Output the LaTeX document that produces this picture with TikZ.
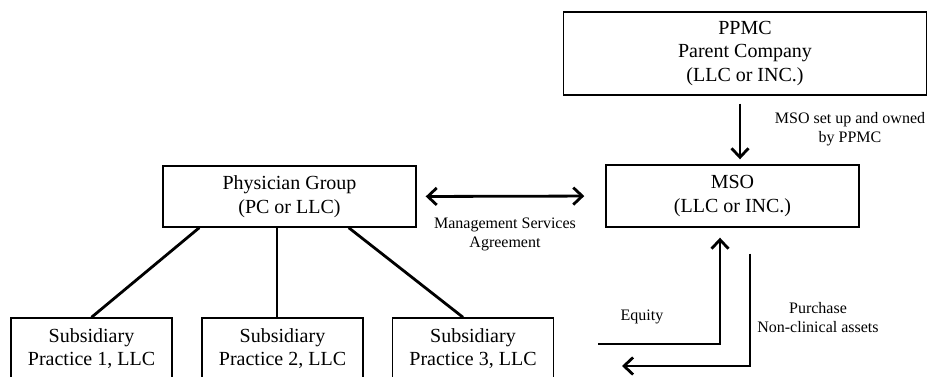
\documentclass[tikz,border=0pt]{standalone}
\usepackage{fontspec}
\setmainfont{Liberation Serif}
\usetikzlibrary{arrows.meta}

\tikzset{
  box/.style={draw, line width=1.4pt, align=center, inner sep=0pt,
    font=\fontsize{20}{23.5}\selectfont},
  lbl/.style={align=center, inner sep=0pt, font=\fontsize{16}{19}\selectfont},
  link/.style={line width=2.8pt},
  arr/.style={line width=2.8pt, -{Straight Barb[length=9pt,width=17pt]}},
  dblarr/.style={line width=2.8pt,
    {Straight Barb[length=9pt,width=17pt]}-{Straight Barb[length=9pt,width=17pt]}},
}

\begin{document}
\begin{tikzpicture}[x=1pt,y=-1pt]
\clip (0,0) rectangle (930,377);

% draw the boxes
\node[box, minimum width=363pt, minimum height=83pt] (ppmc) at (745,53.5) {PPMC\\Parent Company\\(LLC or INC.)};
\node[box, minimum width=253pt, minimum height=62pt] (mso) at (732.5,196) {MSO\\(LLC or INC.)};
\node[box, minimum width=253pt, minimum height=61pt] (phys) at (289.5,196.5) {Physician Group\\(PC or LLC)};
\foreach \i/\x in {1/91.5,2/282.5,3/473}
\node[box, minimum width=161pt, minimum height=61pt] (sub\i) at (\x,348.5) {Subsidiary\\Practice \i, LLC};

% draw the labels
\node[lbl] (setup) at (850,129) {MSO set up and owned\\by PPMC};
\node[lbl] (msa) at (505,234.5) {Management Services\\Agreement};
\node[lbl] (equity) at (642,317) {Equity};
\node[lbl] (purchase) at (818,317.5) {Purchase\\Non-clinical assets};

% draw lines to the practices
\draw[link] ([xshift=37pt]phys.south west) -- (sub1.north);
\draw[link] ([xshift=-12.5pt]phys.south) -- ([xshift=-5.5pt]sub2.north);
\draw[link] ([xshift=-68pt]phys.south east) -- ([xshift=-10pt]sub3.north);

% draw the arrows
\draw[arr, shorten <=8pt, shorten >=5pt] ([xshift=-5pt]ppmc.south) -- ([xshift=7.5pt]mso.north);
\draw[dblarr, shorten <=9pt, shorten >=21pt] (phys.east) -- (mso.west);

\coordinate (eqstart) at (598,344);
\coordinate (pcend) at (622,366);
\draw[arr] (eqstart) -| ([xshift=-12.5pt,yshift=-10pt]mso.south);
\draw[arr] ([xshift=17.5pt,yshift=-26pt]mso.south) |- (pcend);

\end{tikzpicture}
\end{document}
